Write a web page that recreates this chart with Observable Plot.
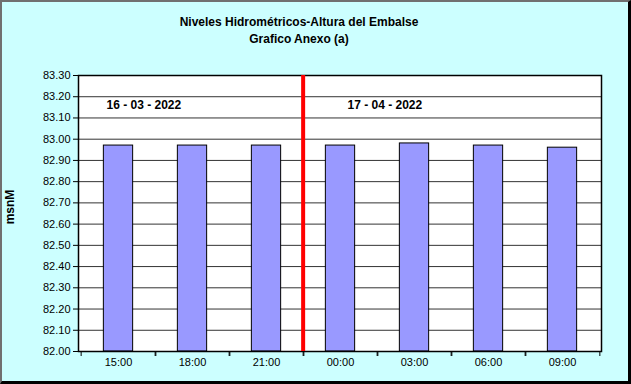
<!DOCTYPE html>
<html>
<head>
<meta charset="utf-8">
<script src="https://cdn.jsdelivr.net/npm/d3@7"></script>
<script src="https://cdn.jsdelivr.net/npm/@observablehq/plot@0.6"></script>
<style>
  body { margin: 0; background: #fff; }
  #chart { position: relative; width: 631px; height: 384px; background: #CCFFFF; overflow: hidden;
           font-family: "Liberation Sans", Arial, sans-serif; }
  .title { position: absolute; left: 0; width: 598px; text-align: center; font-weight: bold; font-size: 12px; color: #000; }
  #ylab { position: absolute; left: 10px; top: 207px; transform: translate(-50%, -50%) rotate(-90deg);
          font-weight: bold; font-size: 12px; white-space: nowrap; }
  #plot { position: absolute; left: 0; top: 50px; }
  #border { position: absolute; left: 0; top: 0; width: 631px; height: 384px; box-sizing: border-box;
            border-left: 2px solid #707070; border-top: 2px solid #707070;
            border-right: 3px solid #000; border-bottom: 3px solid #000; pointer-events: none; }
</style>
</head>
<body>
<div id="chart">
  <div class="title" style="top:15px">Niveles Hidrométricos-Altura del Embalse</div>
  <div class="title" style="top:32px">Grafico Anexo (a)</div>
  <div id="ylab">msnM</div>
  <div id="plot"></div>
  <div id="border"></div>
</div>
<script>
// Data
const hours = ["15:00", "18:00", "21:00", "00:00", "03:00", "06:00", "09:00"];
const levels = [82.97, 82.97, 82.97, 82.97, 82.98, 82.97, 82.96];
const yTicks = [82.0, 82.1, 82.2, 82.3, 82.4, 82.5, 82.6, 82.7, 82.8, 82.9, 83.0, 83.1, 83.2, 83.3];
const dateLabels = ["16 - 03 - 2022", "17 - 04 - 2022"];
const dateAt = ["15:00", "00:00"];
const dateLevel = 83.16;
const dividerAt = ["00:00"];

const data = hours.map((h, i) => ({hour: h, value: levels[i]}));
const yMin = yTicks[0], yMax = yTicks[yTicks.length - 1];

const W = 631, H = 334, mL = 78, mR = 30, mT = 25, mB = 33;
const bw = (W - mL - mR) / hours.length;
const barW = 30;
const inset = (bw - barW) / 2;
const labelShift = [-12, 7];

const chart = Plot.plot({
  width: W, height: H,
  marginLeft: mL, marginRight: mR, marginTop: mT, marginBottom: mB,
  style: {background: "transparent", fontFamily: "'Liberation Sans', Arial, sans-serif", fontSize: "11px", color: "#000"},
  x: {type: "band", domain: hours, padding: 0, label: null},
  y: {domain: [yMin, yMax], label: null},
  marks: [
    Plot.frame({fill: "white", stroke: null}),
    Plot.gridY(yTicks, {stroke: "#333", strokeOpacity: 1}),
    Plot.barY(data, {x: "hour", y1: () => yMin, y2: "value", fill: "#9999FF", stroke: "#000", strokeWidth: 1, insetLeft: inset, insetRight: inset}),
    Plot.frame({stroke: "#000", strokeWidth: 1.5}),
    Plot.ruleX(dividerAt, {x: d => d, dx: -bw / 2, stroke: "#FF0000", strokeWidth: 4}),
    ...dateLabels.map((t, i) => Plot.text([t], {x: () => dateAt[i], y: () => dateLevel, text: d => d, dx: labelShift[i], fontWeight: "bold", fontSize: 12, textAnchor: "start", fill: "#000"})),
    Plot.axisY(yTicks, {tickFormat: d3.format(".2f"), tickSize: 5, tickPadding: 3, fontSize: 11, stroke: "#000"}),
    Plot.axisX({tickSize: 5, text: null, dx: -bw / 2, stroke: "#000"}),
    Plot.axisX({tickSize: 5, text: null, dx: bw / 2, stroke: "#000"}),
    Plot.axisX({tickSize: 0, tickPadding: 7, fontSize: 11})
  ]
});
document.getElementById("plot").appendChild(chart);
</script>
</body>
</html>
